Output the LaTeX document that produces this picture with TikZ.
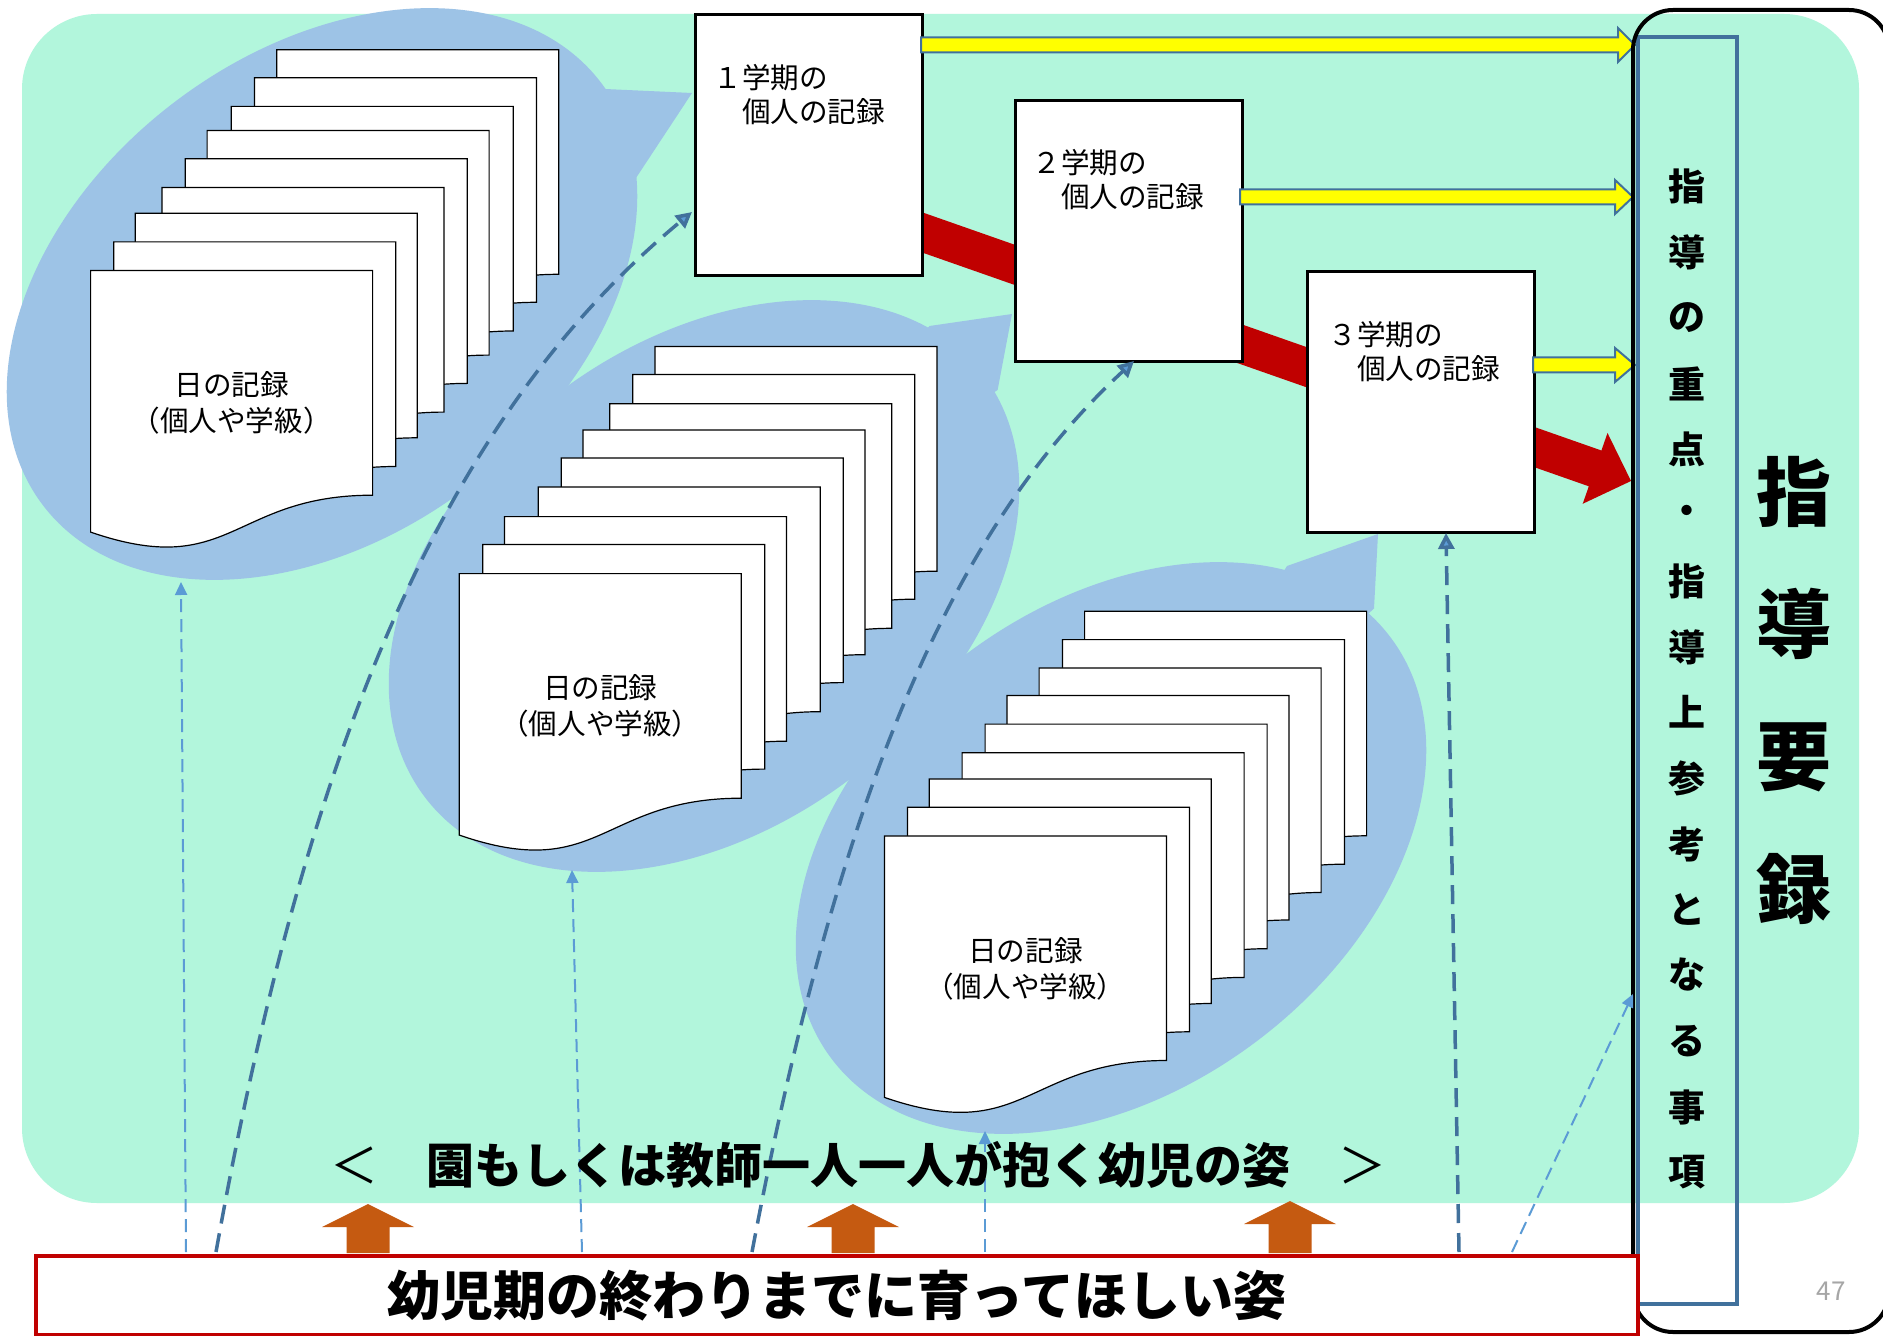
\documentclass[tikz,border=0pt]{standalone}
\usepackage{fontspec}
\newfontfamily\jp{Noto Sans CJK JP}
\usetikzlibrary{arrows.meta,calc}
\definecolor{bggreen}{HTML}{B2F6DC}
\definecolor{bubblec}{HTML}{9DC3E6}
\definecolor{steelc}{HTML}{41719C}
\definecolor{lightc}{HTML}{5B9BD5}
\definecolor{redc}{HTML}{C00000}
\definecolor{orangec}{HTML}{C55A11}
\definecolor{yellowc}{HTML}{FFFF00}
\definecolor{numgray}{HTML}{A6A6A6}
\tikzset{
 page/.style={fill=white, draw=black, line width=0.6pt},
 recordtext/.style={font=\jp\fontsize{14.3}{18}\selectfont, align=center, inner sep=0pt},
 termbox/.style={draw=black, fill=white, line width=1.6pt, minimum width=113.5pt, minimum height=130.5pt, anchor=north west, inner sep=0pt},
 termtext/.style={font=\jp\fontsize{14.3}{17}\selectfont, align=left, anchor=west, inner sep=0pt},
 yarrowst/.style={fill=yellowc, draw=steelc, line width=1pt},
 thickdash/.style={draw=steelc, line width=1.75pt, dash pattern=on 9.5pt off 5pt, -{Triangle[length=8pt,width=8pt,fill=lightc]}},
 thindash/.style={draw=lightc, line width=1pt, dash pattern=on 6.5pt off 3.5pt, -{Triangle[length=6.5pt,width=6pt]}},
 bubble/.style={fill=bubblec},
 orangearrow/.style={fill=orangec},
 vtext/.style={font=\jp\bfseries\fontsize{18.5}{20}\selectfont, inner sep=0pt},
 bigtext/.style={font=\jp\bfseries\fontsize{37.5}{40}\selectfont, inner sep=0pt},
}
\newcommand\docpg[2]{\filldraw[page] (#1,#2) -- ({#1+282},#2) -- ({#1+282},{#2+224.6}) .. controls ({#1+141},{#2+224.6}) and ({#1+141},{#2+310.1}) .. (#1,{#2+261.5}) -- cycle;}
\newcommand\yarr[4]{\filldraw[yarrowst] (#1,{#4-7.5}) -- (#2,{#4-7.5}) -- (#2,{#4-17}) -- (#3,#4) -- (#2,{#4+17}) -- (#2,{#4+7.5}) -- (#1,{#4+7.5}) -- cycle;}
\newcommand\oarr[2]{\fill[orangearrow] (#1,#2) -- ({#1+46},{#2+23}) -- ({#1+21.5},{#2+23}) -- ({#1+21.5},1253) -- ({#1-21.5},1253) -- ({#1-21.5},{#2+23}) -- ({#1-46},{#2+23}) -- cycle;}
\newcommand\bubbleshape[8]{%
  \fill[bubble, rotate around={37:(#1,#2)}] (#1,#2) ellipse [x radius=350, y radius=242];
  \fill[bubble] (#5,#6) -- (#3,#4) -- (#7,#8) -- (#1,#2) -- cycle;}
\begin{document}
\begin{tikzpicture}[x=0.5pt,y=-0.5pt]
\clip (0,0) rectangle (1883,1336);
\fill[white] (0,0) rectangle (1883,1336);
% background
\fill[bggreen, rounded corners=37.5pt] (22,14) rectangle (1859,1203);
% speech bubbles
\bubbleshape{322}{294}{692}{93}{605}{89}{636}{178}
\bubbleshape{704}{586}{1012}{314}{929.5}{326}{997.6}{390}
\bubbleshape{1111}{848}{1378}{534}{1287}{566}{1374}{608.5}
% stacks of daily records
\foreach \px/\py in {276.8/49.7,254.4/77.7,231.2/106.4,207.1/130.5,185.3/158.8,162.0/187.5,135.3/213.2,113.8/241.9,90.6/270.6}{\docpg{\px}{\py}}
\node[recordtext] (rec1) at (231.6,403) {日の記録\\（個人や学級）};
\foreach \px/\py in {654.9/346.6,632.8/374.6,609.8/403.7,582.9/430.1,561.3/458.0,538.3/487.1,504.4/516.6,482.8/544.5,459.3/573.6}{\docpg{\px}{\py}}
\node[recordtext] (rec2) at (600.3,706) {日の記録\\（個人や学級）};
\foreach \px/\py in {1084.6/611.2,1062.4/639.6,1039.1/667.9,1006.9/695.4,985.1/724.1,962.1/752.8,929.2/778.9,907.4/807.2,884.4/835.9}{\docpg{\px}{\py}}
\node[recordtext] (rec3) at (1025.4,968.5) {日の記録\\（個人や学級）};
% red flow arrow
\fill[redc] (911.3,208.5) -- (1601.4,450.5) -- (1607.5,433) -- (1631,481) -- (1582.7,503.8) -- (1588.8,486.3) -- (898.7,244.3) -- cycle;
% term boxes
\node[termbox] (t1) at (694,13) {};
\node[termtext] (t1l) at (713,95) {１学期の\\　個人の記録};
\node[termbox] (t2) at (1014,99) {};
\node[termtext] (t2l) at (1032,180) {２学期の\\　個人の記録};
\node[termbox] (t3) at (1306,270) {};
\node[termtext] (t3l) at (1328,352) {３学期の\\　個人の記録};
% yellow arrows
\yarr{921}{1618}{1635}{45}
\yarr{1240}{1615}{1633}{197}
\yarr{1533}{1615}{1635}{365}
% right frame
\draw[steelc, line width=2pt] (1638,37) rectangle (1737,1304);
\draw[black, line width=2pt, rounded corners=20pt] (1633,10) rectangle (1889,1332);
% dashed connectors
\coordinate (sa) at (186,1252);  \coordinate (ea) at (181,582);
\coordinate (sb) at (216,1252);  \coordinate (eb) at (692,212);
\coordinate (sc) at (582,1252);  \coordinate (ec) at (572,870);
\coordinate (sd) at (752,1252);  \coordinate (ed) at (1134,361);
\coordinate (se) at (985,1252);  \coordinate (ee) at (985,1131);
\coordinate (sf) at (1459,1252); \coordinate (ef) at (1446,533);
\coordinate (sg) at (1512,1252); \coordinate (eg) at (1633,994);
\draw[thindash] (sa) -- (ea);
\draw[thindash] (sc) -- (ec);
\draw[thindash] (se) -- (ee);
\draw[thindash] (sg) -- (eg);
\draw[thickdash] (sb) .. controls (311,721) and (454,409) .. (eb);
\draw[thickdash] (sd) .. controls (838.5,794) and (952,529) .. (ed);
\draw[thickdash] (sf) -- (ef);
% orange arrows
\oarr{368}{1204}
\oarr{853}{1204}
\oarr{1290}{1201}
% bottom box
\node[draw=redc, line width=2pt, fill=white, anchor=north west, minimum width=801pt, minimum height=39.5pt, inner sep=0pt, font=\jp\bfseries\fontsize{26.5}{28}\selectfont] (goal) at (34,1254) {幼児期の終わりまでに育ってほしい姿};
% middle caption
\node[font=\jp\bfseries\fontsize{24}{26}\selectfont, inner sep=0pt] (image) at (858,1165) {{\mdseries ＜}　園もしくは教師一人一人が抱く幼児の姿　{\mdseries ＞}};
% vertical texts
\foreach \ch/\yy [count=\i] in {指/186,導/252,の/318,重/384,点/449,・/515,指/581,導/647,上/712,参/778,考/844,と/910,な/975,る/1041,事/1107,項/1172}
  \node[vtext] (v\i) at (1687,\yy) {\ch};
\foreach \ch/\yy [count=\i] in {指/492,導/624,要/757,録/889}
  \node[bigtext] (b\i) at (1794,\yy) {\ch};
\node[font=\jp\fontsize{13}{15}\selectfont, text=numgray, inner sep=0pt] (pageno) at (1831,1291) {47};
\end{tikzpicture}
\end{document}
